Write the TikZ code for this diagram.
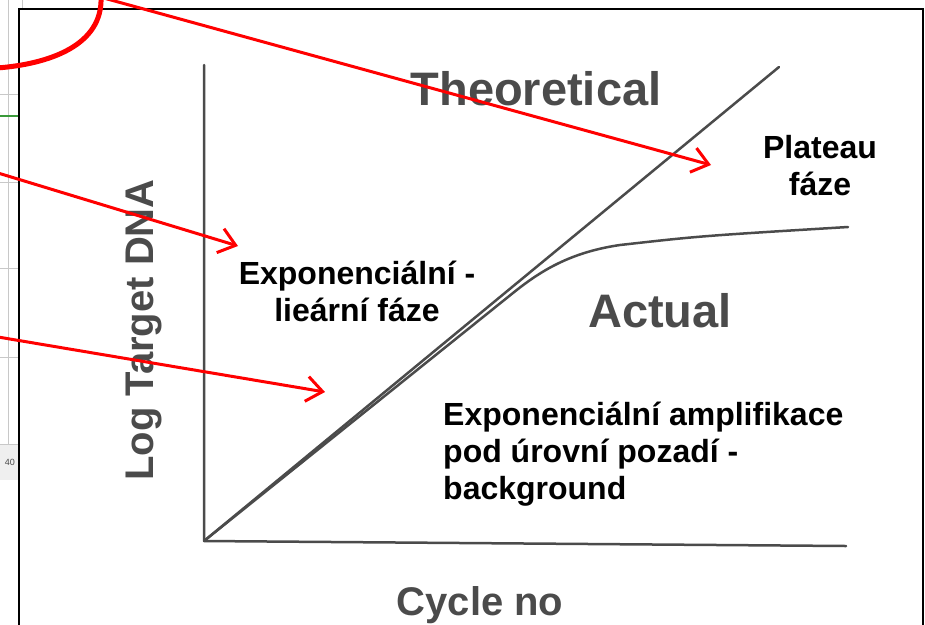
\documentclass[tikz,border=0pt]{standalone}
\usepackage{fontspec}
\setmainfont{Liberation Sans}
\usetikzlibrary{arrows.meta}
\definecolor{scangray}{HTML}{4B4B4B}
\definecolor{gridgray}{HTML}{C8C8C8}
\definecolor{xlgreen}{HTML}{3A9A3A}
\definecolor{cellgray}{HTML}{EFEFEF}
\begin{document}
\begin{tikzpicture}[x=1pt, y=-1pt,
    blacklbl/.style={font=\bfseries\fontsize{32}{37}\selectfont, align=center, inner sep=0pt, anchor=base},
    graylbl/.style={font=\bfseries\fontsize{47}{54}\selectfont, text=scangray, inner sep=0pt, anchor=base},
    axislbl/.style={font=\bfseries\fontsize{40}{46}\selectfont, text=scangray, inner sep=0pt, anchor=base},
    curve/.style={draw=scangray, line width=2.5pt, line join=round, line cap=round},
    redarrow/.style={draw=red, line width=3pt, -{Straight Barb[length=16pt, width=25pt]}}]
        \useasboundingbox (0,0) rectangle (925,624);
        \clip (0,0) rectangle (925,624);

        % spreadsheet strip on the left
        \fill[cellgray] (0,444) rectangle (19,480);
        \draw[gridgray] (8,0) -- (8,444);
        \draw[gridgray] (22,0) -- (22,9);
        \draw[gridgray] (0,94) -- (19,94);
        \draw[gridgray] (0,182) -- (19,182);
        \draw[gridgray] (0,268) -- (19,268);
        \draw[gridgray] (0,357) -- (19,357);
        \draw[gridgray] (0,444) -- (19,444);
        \draw[xlgreen, line width=1.5pt] (0,116) -- (19,116);
        \node[font=\fontsize{9}{10}\selectfont, text=scangray, inner sep=0pt] (cell) at (10,462) {40};

        % frame of the scan
        \draw[black, line width=2pt] (19,630) -- (19,9) -- (923,9) -- (923,630);

        % axes and curves
        \coordinate (O) at (204,541);
        \coordinate (ytop) at (204,65);
        \coordinate (xend) at (846,546);
        \coordinate (theo) at (779,67);
        \coordinate (bend) at (508,297);
        \coordinate (plat) at (620,245);
        \coordinate (act) at (848,227);

        \draw[curve] (ytop) -- (O) -- (xend);
        \draw[curve] (O) -- (theo);
        \draw[curve] (O) -- (bend) .. controls (535,275) and (565,253) .. (plat) .. controls (700,236) .. (act);

        % labels of the scan
        \node[graylbl] (theolbl) at (536,105) {Theoretical};
        \node[graylbl] (actlbl) at (660,327) {Actual};
        \node[axislbl] (xlbl) at (480,615) {Cycle no};
        \node[axislbl, rotate=90] (ylbl) at (153,330) {Log Target DNA};

        % phase labels (base = last line)
        \node[blacklbl] (plateau) at (820,195) {Plateau\\fáze};
        \node[blacklbl] (linear) at (357,321) {Exponenciální -\\lieární fáze};
        \node[blacklbl, align=left, anchor=base west] (backgr) at (443,499) {Exponenciální amplifikace\\pod úrovní pozadí -\\background};

        % red marks
        \draw[red, line width=5pt] (101,-3) .. controls (103,45) and (50,64) .. (-3,68);

        \coordinate (r1s) at (100,-3);
        \coordinate (r1e) at (711,165);
        \coordinate (r2s) at (-2,173);
        \coordinate (r2e) at (238,246);
        \coordinate (r3s) at (-2,337);
        \coordinate (r3e) at (325,392);

        \draw[redarrow] (r1s) -- (r1e);
        \draw[redarrow] (r2s) -- (r2e);
        \draw[redarrow] (r3s) -- (r3e);
    \end{tikzpicture}
\end{document}
